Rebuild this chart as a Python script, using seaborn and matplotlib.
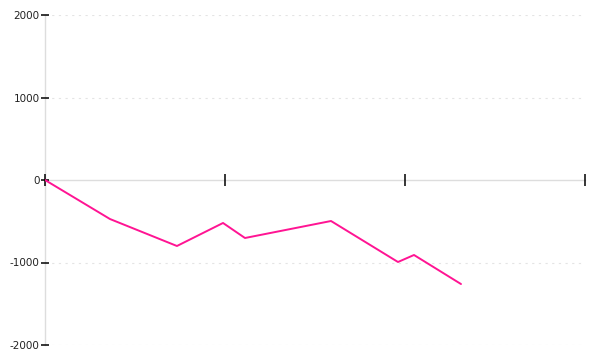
import matplotlib
matplotlib.use("Agg")
import matplotlib.pyplot as plt
import seaborn as sns
import pandas as pd

x_vals = [0.0, 0.361, 0.733, 0.989, 1.111, 1.589, 1.961, 2.05, 2.311]
y_vals = [0, -473, -800, -521, -703, -497, -994, -909, -1261]
y_ticks = [-2000, -1000, 0, 1000, 2000]
x_ticks = [0, 1, 2, 3]

sns.set_style("white")
plt.rcParams['font.family'] = ['DejaVu Sans']

fig = plt.figure(figsize=(6, 3.6), dpi=100)
ax = fig.add_axes([0.075, 1 - 345/360, 0.9, 330/360])

df = pd.DataFrame({"x": x_vals, "y": y_vals})
sns.lineplot(data=df, x="x", y="y", ax=ax, sort=False, estimator=None,
             color="#ff1493", linewidth=1.4)

ax.set_xlim(0, 3)
ax.set_ylim(-2000, 2000)
ax.set_yticks(y_ticks)
ax.set_yticklabels([str(v) for v in y_ticks])
ax.set_xticks(x_ticks)
ax.set_xticklabels([])
ax.set_xlabel("")
ax.set_ylabel("")

for v in y_ticks:
    if v != 0:
        ax.axhline(v, color="#e4e4e4", linestyle=(0, (2, 4)), linewidth=0.8, zorder=0)

for s in ["top", "right"]:
    ax.spines[s].set_visible(False)
ax.spines["bottom"].set_position(("data", 0))
for s in ["bottom", "left"]:
    ax.spines[s].set_color("#dddddd")
    ax.spines[s].set_linewidth(1.0)
    ax.spines[s].set_zorder(0.5)

ax.tick_params(axis="x", bottom=True, direction="inout", length=8, width=1.1, color="black", pad=2)
ax.tick_params(axis="y", left=True, direction="inout", length=6, width=1.1, color="black",
               labelsize=7.5, labelcolor="#222222", pad=1)

fig.savefig("out.png", dpi=100)
